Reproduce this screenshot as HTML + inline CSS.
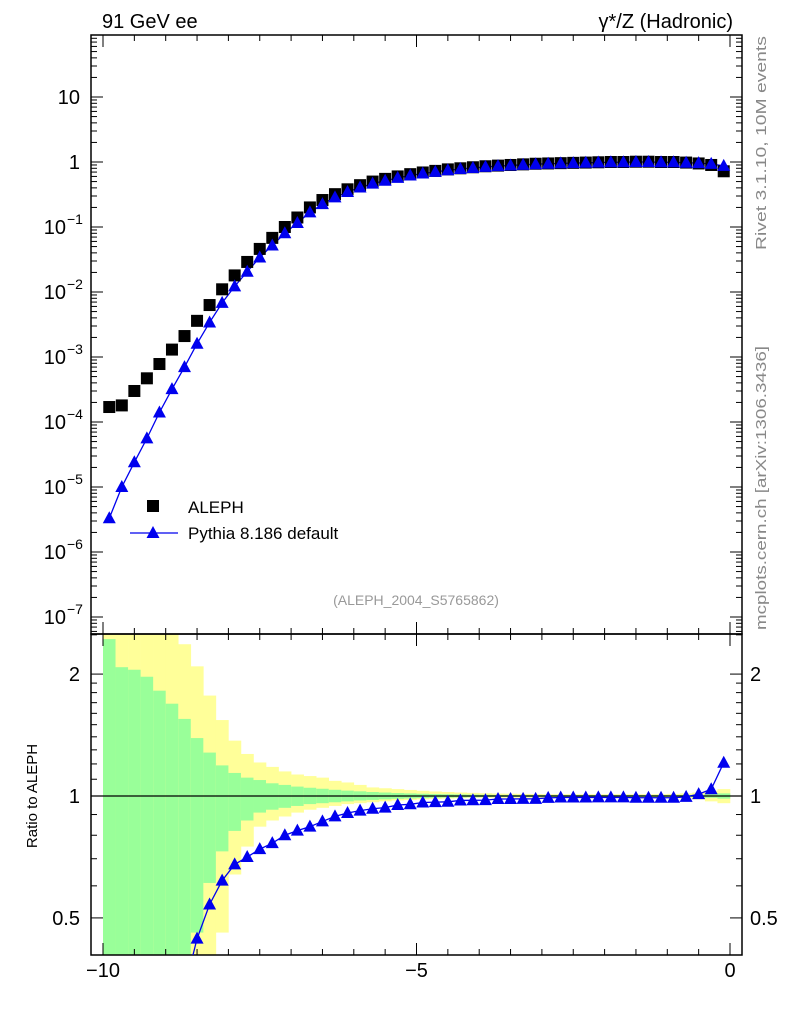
<!DOCTYPE html>
<html><head><meta charset="utf-8"><style>
html,body{margin:0;padding:0;background:#fff;overflow:hidden;width:786px;height:1024px;}
#wrap{position:relative;width:786px;height:1024px;overflow:hidden;}
svg{display:block;position:absolute;left:0;top:0;}
svg text{font-family:"Liberation Sans",sans-serif;}
</style></head><body>
<div id="wrap">
<svg id="c" width="786" height="1024" viewBox="0 0 786 1024" xmlns="http://www.w3.org/2000/svg"></svg>
<svg width="786" height="1024" viewBox="0 0 786 1024" xmlns="http://www.w3.org/2000/svg">
<text x="102" y="28" font-size="20">91 GeV ee</text>
<text x="733" y="28" font-size="20" text-anchor="end">γ*/Z (Hadronic)</text>
<text transform="translate(766,250) rotate(-90)" font-size="15" fill="#888" textLength="214" lengthAdjust="spacingAndGlyphs">Rivet 3.1.10,  10M events</text>
<text transform="translate(766,630) rotate(-90)" font-size="15" fill="#888" textLength="284" lengthAdjust="spacingAndGlyphs">mcplots.cern.ch [arXiv:1306.3436]</text>
<text x="416" y="605" font-size="14" fill="#999" text-anchor="middle">(ALEPH_2004_S5765862)</text>
<rect x="147" y="500" width="12" height="12" fill="#000"/>
<text x="188" y="513" font-size="17">ALEPH</text>
<line x1="130" x2="178" y1="533" y2="533" stroke="#0000ee" stroke-width="1.3"/>
<polygon points="153,526 146.5,538 159.5,538" fill="#0000ee"/>
<text x="188" y="539" font-size="17">Pythia 8.186 default</text>
<text transform="translate(37,796) rotate(-90)" font-size="15" text-anchor="middle">Ratio to ALEPH</text>
</svg>
</div>
<script>
const binCenters=[-9.9,-9.7,-9.5,-9.3,-9.1,-8.9,-8.7,-8.5,-8.3,-8.1,-7.9,-7.7,-7.5,-7.3,-7.1,-6.9,-6.7,-6.5,-6.3,-6.1,-5.9,-5.7,-5.5,-5.3,-5.1,-4.9,-4.7,-4.5,-4.3,-4.1,-3.9,-3.7,-3.5,-3.3,-3.1,-2.9,-2.7,-2.5,-2.3,-2.1,-1.9,-1.7,-1.5,-1.3,-1.1,-0.9,-0.7,-0.5,-0.3,-0.1];
const alephValues=[1.7e-4,1.8e-4,3e-4,4.7e-4,7.8e-4,1.3e-3,2.1e-3,3.6e-3,6.3e-3,1.1e-2,1.8e-2,2.9e-2,4.6e-2,6.8e-2,0.1,0.14,0.2,0.26,0.32,0.38,0.44,0.5,0.55,0.6,0.65,0.69,0.73,0.77,0.8,0.83,0.86,0.88,0.9,0.92,0.94,0.95,0.96,0.97,0.98,0.99,1.0,1.0,1.01,1.01,1.0,1.0,0.98,0.95,0.9,0.72];
const pythiaValues=[3.3e-6,1e-5,2.4e-5,5.6e-5,1.4e-4,3.2e-4,7e-4,1.6e-3,3.4e-3,6.8e-3,1.22e-2,2.05e-2,3.4e-2,5.2e-2,8e-2,0.115,0.168,0.225,0.285,0.345,0.405,0.465,0.515,0.57,0.62,0.665,0.705,0.745,0.78,0.81,0.84,0.865,0.885,0.905,0.925,0.94,0.952,0.962,0.972,0.982,0.992,0.992,1.0,1.0,0.99,0.99,0.975,0.96,0.935,0.87];
const greenUp=[2.44,2.08,2.05,1.97,1.82,1.69,1.55,1.39,1.28,1.19,1.14,1.11,1.095,1.075,1.065,1.055,1.048,1.042,1.036,1.031,1.027,1.023,1.02,1.017,1.015,1.013,1.011,1.01,1.009,1.008,1.007,1.006,1.006,1.005,1.005,1.005,1.005,1.005,1.005,1.005,1.005,1.005,1.005,1.005,1.005,1.005,1.006,1.007,1.01,1.015];
const yellowUp=[3,3,3,3,3,3,2.37,2.09,1.77,1.54,1.37,1.27,1.21,1.18,1.15,1.13,1.12,1.11,1.09,1.08,1.065,1.05,1.045,1.04,1.035,1.03,1.026,1.023,1.02,1.018,1.016,1.014,1.013,1.012,1.011,1.01,1.01,1.01,1.01,1.01,1.01,1.01,1.01,1.01,1.01,1.012,1.015,1.02,1.03,1.04];
const greenLo=[0.3,0.3,0.3,0.3,0.3,0.3,0.3,0.46,0.61,0.73,0.82,0.87,0.91,0.925,0.935,0.945,0.955,0.96,0.965,0.97,0.975,0.978,0.981,0.984,0.986,0.988,0.99,0.991,0.992,0.993,0.994,0.995,0.995,0.995,0.995,0.995,0.995,0.995,0.995,0.995,0.995,0.995,0.995,0.995,0.995,0.995,0.994,0.993,0.99,0.985];
const yellowLo=[0.3,0.3,0.3,0.3,0.3,0.3,0.3,0.3,0.3,0.46,0.64,0.75,0.84,0.87,0.89,0.91,0.925,0.935,0.945,0.955,0.96,0.965,0.97,0.975,0.978,0.981,0.984,0.986,0.988,0.99,0.99,0.99,0.99,0.99,0.99,0.99,0.99,0.99,0.99,0.99,0.99,0.99,0.99,0.99,0.99,0.988,0.985,0.98,0.97,0.96];
const topTicks=[{v:10,l:"10"},{v:1,l:"1"},{v:0.1,l:"10",e:"−1"},{v:0.01,l:"10",e:"−2"},{v:1e-3,l:"10",e:"−3"},{v:1e-4,l:"10",e:"−4"},{v:1e-5,l:"10",e:"−5"},{v:1e-6,l:"10",e:"−6"},{v:1e-7,l:"10",e:"−7"}];
const ratioTicks=[2,1,0.5];
const xTickLabels=[-10,-5,0];

const S=document.getElementById('c');const NS="http://www.w3.org/2000/svg";
function mk(t,a,p){const e=document.createElementNS(NS,t);for(const k in a)e.setAttribute(k,a[k]);(p||S).appendChild(e);return e;}
const L=91,R=742,T=35,M=634,B=955;
const X=v=>103+(v+10)*62.7;
const Y=v=>162-65*Math.log10(v);
const YR=r=>796-405*Math.log10(r);
const cp=mk('clipPath',{id:'cr'});mk('rect',{x:L,y:M,width:R-L,height:B-M},cp);
const ct=mk('clipPath',{id:'ctop'});mk('rect',{x:L,y:T,width:R-L,height:M-T},ct);
const bands=mk('g',{'clip-path':'url(#cr)'});

binCenters.forEach((c,i)=>{
 const x0=X(c-0.1),w=X(c+0.1)-x0+0.3;
 const y=mk('rect',{x:x0,y:YR(yellowUp[i]),width:w,height:YR(yellowLo[i])-YR(yellowUp[i]),fill:'#ffff99'},bands);
 
 const g=mk('rect',{x:x0,y:YR(greenUp[i]),width:w,height:YR(greenLo[i])-YR(greenUp[i]),fill:'#99ff99'},bands);
 
});
mk('line',{x1:L,x2:R,y1:YR(1),y2:YR(1),stroke:'#000','stroke-width':1.2});
const f1=mk('rect',{x:L,y:T,width:R-L,height:M-T,fill:'none',stroke:'#000','stroke-width':1.5});

const f2=mk('rect',{x:L,y:M,width:R-L,height:B-M,fill:'none',stroke:'#000','stroke-width':1.5});

for(let v=-10;v<=0.01;v+=0.5){const maj=Math.abs(v%5)<0.01;const len=maj?12:6;
 [T,M].forEach(y0=>mk('line',{x1:X(v),x2:X(v),y1:y0,y2:y0+len,stroke:'#000'}));
 [M,B].forEach(y0=>mk('line',{x1:X(v),x2:X(v),y1:y0,y2:y0-len,stroke:'#000'}));}
xTickLabels.forEach(v=>{const t=mk('text',{x:X(v),y:977,'font-size':20,'text-anchor':'middle'});t.textContent=(v<0?'−':'')+Math.abs(v);
 });
for(let d=-8;d<=2;d++)for(let m=1;m<10;m++){const v=m*Math.pow(10,d);const y=Y(v);if(y<T||y>M)continue;const len=m==1?12:6;
 mk('line',{x1:L,x2:L+len,y1:y,y2:y,stroke:'#000'});mk('line',{x1:R,x2:R-len,y1:y,y2:y,stroke:'#000'});}
topTicks.forEach(o=>{const t=mk('text',{x:o.e?66:80,y:Y(o.v)+7,'font-size':20,'text-anchor':'end'});t.textContent=o.l;
 
 if(o.e){const s=mk('text',{x:67,y:Y(o.v)-3,'font-size':14});s.textContent=o.e;}});
[0.4,0.5,0.6,0.7,0.8,0.9,1,2,1.1,1.2,1.3,1.4,1.5,1.6,1.7,1.8,1.9,2.5].forEach(v=>{const y=YR(v);if(y<M||y>B)return;const len=(v==1||v==2||v==0.5)?12:6;
 mk('line',{x1:L,x2:L+len,y1:y,y2:y,stroke:'#000'});mk('line',{x1:R,x2:R-len,y1:y,y2:y,stroke:'#000'});});
ratioTicks.forEach(v=>{const a=mk('text',{x:80,y:YR(v)+7,'font-size':20,'text-anchor':'end'});a.textContent=String(v);
 
 const b=mk('text',{x:750,y:YR(v)+7,'font-size':20});b.textContent=String(v);});
const tg=mk('g',{'clip-path':'url(#ctop)'});
mk('polyline',{points:binCenters.map((c,i)=>X(c)+','+Y(pythiaValues[i])).join(' '),fill:'none',stroke:'#0000ee','stroke-width':1.3},tg);
binCenters.forEach((c,i)=>{const x=X(c),y=Y(alephValues[i]);
 const r=mk('rect',{x:x-6,y:y-6,width:12,height:12,fill:'#000'},tg);
 });
binCenters.forEach((c,i)=>{const x=X(c),y=Y(pythiaValues[i]);
 const p=mk('polygon',{points:`${x},${y-7} ${x-6.5},${y+5} ${x+6.5},${y+5}`,fill:'#0000ee'},tg);
 });
const rg=mk('g',{'clip-path':'url(#cr)'});
const ratio=binCenters.map((c,i)=>pythiaValues[i]/alephValues[i]);
mk('polyline',{points:binCenters.map((c,i)=>X(c)+','+YR(ratio[i])).join(' '),fill:'none',stroke:'#0000ee','stroke-width':1.3},rg);
binCenters.forEach((c,i)=>{const x=X(c),y=YR(ratio[i]);
 const p=mk('polygon',{points:`${x},${y-7} ${x-6.5},${y+5} ${x+6.5},${y+5}`,fill:'#0000ee'},rg);
 });
</script>
</body></html>
